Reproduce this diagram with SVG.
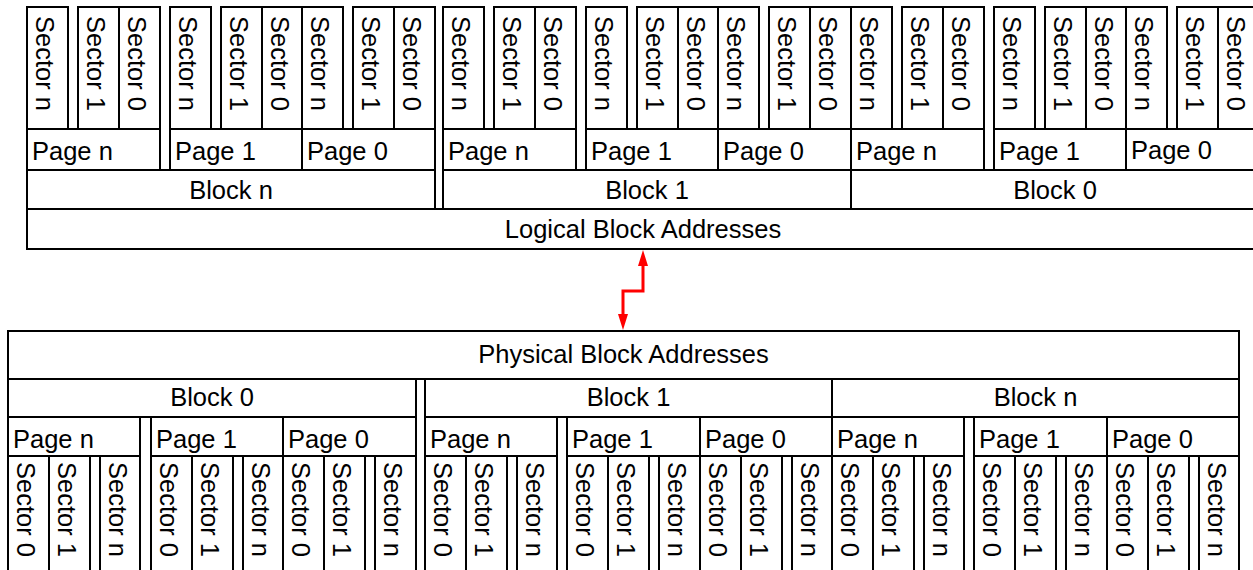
<svg xmlns="http://www.w3.org/2000/svg" width="1253" height="570" viewBox="0 0 1253 570">
<style>
rect{fill:#fff;stroke:#000;stroke-width:2}
text{font-family:"Liberation Sans",Arial,sans-serif;font-size:25.5px;fill:#000}
.c{text-anchor:middle}
</style>
<defs>
<marker id="ah" viewBox="0 0 16 10" markerWidth="16" markerHeight="10" refX="0" refY="5" orient="auto-start-reverse" markerUnits="userSpaceOnUse"><path d="M0,0L16,5L0,10z" fill="#f00"/></marker>
</defs>
<rect x="-5" y="-5" width="1270" height="590" style="stroke:none"/>
<g id="lba"><rect x="27" y="209" width="1232" height="40"/><text class="c" x="643" y="238">Logical Block Addresses</text></g>
<g id="top-block-n"><rect x="27" y="170" width="408" height="39"/><text class="c" x="231" y="199">Block n</text></g>
<g id="top-block-1"><rect x="443" y="170" width="408" height="39"/><text class="c" x="647" y="199">Block 1</text></g>
<g id="top-block-0"><rect x="851" y="170" width="408" height="39"/><text class="c" x="1055" y="199">Block 0</text></g>
<g id="top-bn-page-n"><rect x="27" y="129" width="133" height="41"/><text x="32" y="160">Page n</text></g>
<g id="top-bn-page-1"><rect x="170" y="129" width="132" height="41"/><text x="175" y="160">Page 1</text></g>
<g id="top-bn-page-0"><rect x="302" y="129" width="133" height="41"/><text x="307" y="160">Page 0</text></g>
<g id="top-b1-page-n"><rect x="443" y="129" width="133" height="41"/><text x="448" y="160">Page n</text></g>
<g id="top-b1-page-1"><rect x="586" y="129" width="132" height="41"/><text x="591" y="160">Page 1</text></g>
<g id="top-b1-page-0"><rect x="718" y="129" width="133" height="41"/><text x="723" y="160">Page 0</text></g>
<g id="top-b0-page-n"><rect x="851" y="129" width="133" height="41"/><text x="856" y="160">Page n</text></g>
<g id="top-b0-page-1"><rect x="994" y="129" width="132" height="41"/><text x="999" y="160">Page 1</text></g>
<g id="top-b0-page-0"><rect x="1126" y="129" width="133" height="41"/><text x="1131" y="159">Page 0</text></g>
<g id="top-bn-pn-sn"><rect x="27" y="7" width="41" height="122"/><text transform="translate(36,16) rotate(90)">Sector n</text></g>
<g id="top-bn-pn-s1"><rect x="78" y="7" width="41" height="122"/><text transform="translate(87,16) rotate(90)">Sector 1</text></g>
<g id="top-bn-pn-s0"><rect x="119" y="7" width="41" height="122"/><text transform="translate(128,16) rotate(90)">Sector 0</text></g>
<g id="top-bn-p1-sn"><rect x="170" y="7" width="41" height="122"/><text transform="translate(179,16) rotate(90)">Sector n</text></g>
<g id="top-bn-p1-s1"><rect x="221" y="7" width="41" height="122"/><text transform="translate(230,16) rotate(90)">Sector 1</text></g>
<g id="top-bn-p1-s0"><rect x="262" y="7" width="40" height="122"/><text transform="translate(271,16) rotate(90)">Sector 0</text></g>
<g id="top-bn-p0-sn"><rect x="302" y="7" width="41" height="122"/><text transform="translate(311,16) rotate(90)">Sector n</text></g>
<g id="top-bn-p0-s1"><rect x="353" y="7" width="41" height="122"/><text transform="translate(362,16) rotate(90)">Sector 1</text></g>
<g id="top-bn-p0-s0"><rect x="394" y="7" width="41" height="122"/><text transform="translate(403,16) rotate(90)">Sector 0</text></g>
<g id="top-b1-pn-sn"><rect x="443" y="7" width="41" height="122"/><text transform="translate(452,16) rotate(90)">Sector n</text></g>
<g id="top-b1-pn-s1"><rect x="494" y="7" width="41" height="122"/><text transform="translate(503,16) rotate(90)">Sector 1</text></g>
<g id="top-b1-pn-s0"><rect x="535" y="7" width="41" height="122"/><text transform="translate(544,16) rotate(90)">Sector 0</text></g>
<g id="top-b1-p1-sn"><rect x="586" y="7" width="41" height="122"/><text transform="translate(595,16) rotate(90)">Sector n</text></g>
<g id="top-b1-p1-s1"><rect x="637" y="7" width="41" height="122"/><text transform="translate(646,16) rotate(90)">Sector 1</text></g>
<g id="top-b1-p1-s0"><rect x="678" y="7" width="40" height="122"/><text transform="translate(687,16) rotate(90)">Sector 0</text></g>
<g id="top-b1-p0-sn"><rect x="718" y="7" width="41" height="122"/><text transform="translate(727,16) rotate(90)">Sector n</text></g>
<g id="top-b1-p0-s1"><rect x="769" y="7" width="41" height="122"/><text transform="translate(778,16) rotate(90)">Sector 1</text></g>
<g id="top-b1-p0-s0"><rect x="810" y="7" width="41" height="122"/><text transform="translate(819,16) rotate(90)">Sector 0</text></g>
<g id="top-b0-pn-sn"><rect x="851" y="7" width="41" height="122"/><text transform="translate(860,16) rotate(90)">Sector n</text></g>
<g id="top-b0-pn-s1"><rect x="902" y="7" width="41" height="122"/><text transform="translate(911,16) rotate(90)">Sector 1</text></g>
<g id="top-b0-pn-s0"><rect x="943" y="7" width="41" height="122"/><text transform="translate(952,16) rotate(90)">Sector 0</text></g>
<g id="top-b0-p1-sn"><rect x="994" y="7" width="41" height="122"/><text transform="translate(1003,16) rotate(90)">Sector n</text></g>
<g id="top-b0-p1-s1"><rect x="1045" y="7" width="41" height="122"/><text transform="translate(1054,16) rotate(90)">Sector 1</text></g>
<g id="top-b0-p1-s0"><rect x="1086" y="7" width="40" height="122"/><text transform="translate(1095,16) rotate(90)">Sector 0</text></g>
<g id="top-b0-p0-sn"><rect x="1126" y="7" width="41" height="122"/><text transform="translate(1135,16) rotate(90)">Sector n</text></g>
<g id="top-b0-p0-s1"><rect x="1177" y="7" width="41" height="122"/><text transform="translate(1186,16) rotate(90)">Sector 1</text></g>
<g id="top-b0-p0-s0"><rect x="1218" y="7" width="41" height="122"/><text transform="translate(1227,16) rotate(90)">Sector 0</text></g>

<g id="pba"><rect x="8" y="331" width="1231" height="48"/><text class="c" x="623.5" y="363">Physical Block Addresses</text></g>
<g id="bot-block-0"><rect x="8" y="379" width="408" height="38"/><text class="c" x="212" y="406">Block 0</text></g>
<g id="bot-block-1"><rect x="425" y="379" width="407" height="38"/><text class="c" x="628.5" y="406">Block 1</text></g>
<g id="bot-block-n"><rect x="832" y="379" width="407" height="38"/><text class="c" x="1035.5" y="406">Block n</text></g>
<g id="bot-b0-page-n"><rect x="8" y="417" width="132" height="39"/><text x="13" y="448">Page n</text></g>
<g id="bot-b0-page-1"><rect x="151" y="417" width="132" height="39"/><text x="156" y="448">Page 1</text></g>
<g id="bot-b0-page-0"><rect x="283" y="417" width="133" height="39"/><text x="288" y="448">Page 0</text></g>
<g id="bot-b1-page-n"><rect x="425" y="417" width="132" height="39"/><text x="430" y="448">Page n</text></g>
<g id="bot-b1-page-1"><rect x="567" y="417" width="133" height="39"/><text x="572" y="448">Page 1</text></g>
<g id="bot-b1-page-0"><rect x="700" y="417" width="132" height="39"/><text x="705" y="448">Page 0</text></g>
<g id="bot-bn-page-n"><rect x="832" y="417" width="132" height="39"/><text x="837" y="448">Page n</text></g>
<g id="bot-bn-page-1"><rect x="974" y="417" width="133" height="39"/><text x="979" y="448">Page 1</text></g>
<g id="bot-bn-page-0"><rect x="1107" y="417" width="132" height="39"/><text x="1112" y="448">Page 0</text></g>
<g id="bot-b0-pn-s0"><rect x="8" y="456" width="41" height="124"/><text transform="translate(16.5,462) rotate(90)">Sector 0</text></g>
<g id="bot-b0-pn-s1"><rect x="49" y="456" width="41" height="124"/><text transform="translate(57.5,462) rotate(90)">Sector 1</text></g>
<g id="bot-b0-pn-sn"><rect x="100" y="456" width="40" height="124"/><text transform="translate(108.5,462) rotate(90)">Sector n</text></g>
<g id="bot-b0-p1-s0"><rect x="151" y="456" width="41" height="124"/><text transform="translate(159.5,462) rotate(90)">Sector 0</text></g>
<g id="bot-b0-p1-s1"><rect x="192" y="456" width="41" height="124"/><text transform="translate(200.5,462) rotate(90)">Sector 1</text></g>
<g id="bot-b0-p1-sn"><rect x="243" y="456" width="40" height="124"/><text transform="translate(251.5,462) rotate(90)">Sector n</text></g>
<g id="bot-b0-p0-s0"><rect x="283" y="456" width="41" height="124"/><text transform="translate(291.5,462) rotate(90)">Sector 0</text></g>
<g id="bot-b0-p0-s1"><rect x="324" y="456" width="41" height="124"/><text transform="translate(332.5,462) rotate(90)">Sector 1</text></g>
<g id="bot-b0-p0-sn"><rect x="375" y="456" width="41" height="124"/><text transform="translate(383.5,462) rotate(90)">Sector n</text></g>
<g id="bot-b1-pn-s0"><rect x="425" y="456" width="41" height="124"/><text transform="translate(433.5,462) rotate(90)">Sector 0</text></g>
<g id="bot-b1-pn-s1"><rect x="466" y="456" width="41" height="124"/><text transform="translate(474.5,462) rotate(90)">Sector 1</text></g>
<g id="bot-b1-pn-sn"><rect x="517" y="456" width="40" height="124"/><text transform="translate(525.5,462) rotate(90)">Sector n</text></g>
<g id="bot-b1-p1-s0"><rect x="567" y="456" width="41" height="124"/><text transform="translate(575.5,462) rotate(90)">Sector 0</text></g>
<g id="bot-b1-p1-s1"><rect x="608" y="456" width="41" height="124"/><text transform="translate(616.5,462) rotate(90)">Sector 1</text></g>
<g id="bot-b1-p1-sn"><rect x="659" y="456" width="41" height="124"/><text transform="translate(667.5,462) rotate(90)">Sector n</text></g>
<g id="bot-b1-p0-s0"><rect x="700" y="456" width="41" height="124"/><text transform="translate(708.5,462) rotate(90)">Sector 0</text></g>
<g id="bot-b1-p0-s1"><rect x="741" y="456" width="41" height="124"/><text transform="translate(749.5,462) rotate(90)">Sector 1</text></g>
<g id="bot-b1-p0-sn"><rect x="792" y="456" width="40" height="124"/><text transform="translate(800.5,462) rotate(90)">Sector n</text></g>
<g id="bot-bn-pn-s0"><rect x="832" y="456" width="41" height="124"/><text transform="translate(840.5,462) rotate(90)">Sector 0</text></g>
<g id="bot-bn-pn-s1"><rect x="873" y="456" width="41" height="124"/><text transform="translate(881.5,462) rotate(90)">Sector 1</text></g>
<g id="bot-bn-pn-sn"><rect x="924" y="456" width="40" height="124"/><text transform="translate(932.5,462) rotate(90)">Sector n</text></g>
<g id="bot-bn-p1-s0"><rect x="974" y="456" width="41" height="124"/><text transform="translate(982.5,462) rotate(90)">Sector 0</text></g>
<g id="bot-bn-p1-s1"><rect x="1015" y="456" width="41" height="124"/><text transform="translate(1023.5,462) rotate(90)">Sector 1</text></g>
<g id="bot-bn-p1-sn"><rect x="1066" y="456" width="41" height="124"/><text transform="translate(1074.5,462) rotate(90)">Sector n</text></g>
<g id="bot-bn-p0-s0"><rect x="1107" y="456" width="41" height="124"/><text transform="translate(1115.5,462) rotate(90)">Sector 0</text></g>
<g id="bot-bn-p0-s1"><rect x="1148" y="456" width="41" height="124"/><text transform="translate(1156.5,462) rotate(90)">Sector 1</text></g>
<g id="bot-bn-p0-sn"><rect x="1199" y="456" width="40" height="124"/><text transform="translate(1207.5,462) rotate(90)">Sector n</text></g>

<g id="connectors"><path d="M643,266V291H623V314" fill="none" stroke="#f00" stroke-width="3" marker-start="url(#ah)" marker-end="url(#ah)"/></g>
</svg>
